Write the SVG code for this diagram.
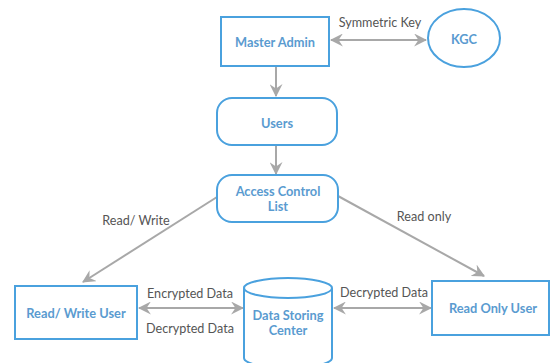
<svg xmlns="http://www.w3.org/2000/svg" width="550" height="363" viewBox="0 0 550 363">
<style>
.n{fill:#fff;stroke:#4aa1de;stroke-width:2}
.t{font-family:Lato,"Liberation Sans",sans-serif;font-size:12.8px;font-weight:bold;fill:#5a9bd0;text-anchor:middle;dominant-baseline:central}
.c{fill:none;stroke:#a8a8a8;stroke-width:2}
.l{font-family:Lato,"Liberation Sans",sans-serif;font-size:12.6px;fill:#555;text-anchor:middle;dominant-baseline:central}
</style>
<defs>
<marker id="a" viewBox="0 0 12 12" refX="11" refY="6" markerWidth="6.5" markerHeight="6.5" orient="auto-start-reverse" markerUnits="strokeWidth">
<path d="M0,0 L12,6 L0,12 L4,6 z" fill="#a8a8a8"/>
</marker>
</defs>
<rect width="550" height="363" fill="#fff"/>
<g id="connectors">
<line class="c" x1="331" y1="40" x2="426" y2="40" marker-start="url(#a)" marker-end="url(#a)"/>
<line class="c" x1="276" y1="67" x2="276" y2="96" marker-end="url(#a)"/>
<line class="c" x1="276" y1="146" x2="276" y2="174" marker-end="url(#a)"/>
<line class="c" x1="217" y1="197" x2="83" y2="282" marker-end="url(#a)"/>
<line class="c" x1="338" y1="196" x2="484" y2="276" marker-end="url(#a)"/>
<line class="c" x1="139" y1="308" x2="243" y2="308" marker-start="url(#a)" marker-end="url(#a)"/>
<line class="c" x1="334" y1="308" x2="431" y2="308" marker-start="url(#a)" marker-end="url(#a)"/>
<text class="l" x="380" y="22">Symmetric Key</text>
<text class="l" x="136" y="220">Read/ Write</text>
<text class="l" x="424" y="216">Read only</text>
<text class="l" x="190" y="293">Encrypted Data</text>
<text class="l" x="190" y="328">Decrypted Data</text>
<text class="l" x="384" y="292">Decrypted Data</text>
</g>
<g id="master-admin"><rect class="n" x="221" y="17" width="108" height="49"/><text class="t" x="275" y="42">Master Admin</text></g>
<g id="kgc"><ellipse class="n" cx="464" cy="38" rx="36" ry="29"/><text class="t" x="464" y="39">KGC</text></g>
<g id="users"><rect class="n" x="217" y="98" width="120" height="47" rx="15"/><text class="t" x="277" y="123">Users</text></g>
<g id="acl"><rect class="n" x="217" y="175" width="121" height="47" rx="15"/><text class="t" x="278" y="191">Access Control</text><text class="t" x="278" y="206">List</text></g>
<g id="rw-user"><rect class="n" x="15" y="286" width="122" height="53"/><text class="t" x="76" y="313">Read/ Write User</text></g>
<g id="data-center"><path class="n" d="M244,288 L244,358 A44,10 0 0 0 332,358 L332,288 A44,10 0 0 0 244,288 A44,10 0 0 0 332,288"/><text class="t" x="288" y="315">Data Storing</text><text class="t" x="288" y="330">Center</text></g>
<g id="ro-user"><rect class="n" x="432" y="281" width="117" height="54"/><text class="t" x="493" y="308">Read Only User</text></g>
</svg>
